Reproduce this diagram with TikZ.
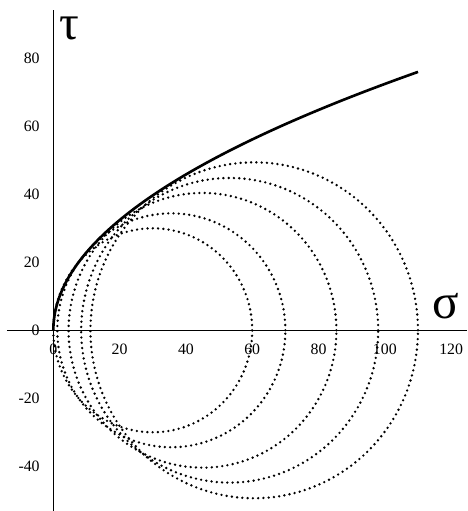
\documentclass[tikz,border=0pt]{standalone}
\usepackage{fontspec}
\setmainfont{Liberation Serif}
\usepackage{tikz}

\tikzset{
  axis/.style={line width=0.6pt},
  envelope/.style={line width=1.5pt},
  mohr/.style={line width=1.5pt,line cap=round,dash pattern=on 0pt off 3pt},
  ticklabel/.style={font=\fontsize{9}{10}\selectfont,inner sep=1pt},
  axislabel/.style={font=\fontsize{28}{30}\selectfont,inner sep=0pt}
}

\begin{document}
\begin{tikzpicture}[x=0.0663cm,y=0.068cm]
  \useasboundingbox (-16.08,-53.15) rectangle (124.8,97.15);
  \draw[axis] (-14,0)--(124.8,0);
  \draw[axis] (0,-53.15)--(0,94.2);
  \node[axislabel] (sigma) at (118.4,7.2) {σ};
  \node[axislabel] (tau) at (5,88.9) {τ};
  \foreach \s in {0,20,40,60,80,100,120}{\node[ticklabel] (x\s) at (\s,-5.5) {\s};}
  \foreach \t in {80,60,40,20,0,-20,-40}{\node[ticklabel,anchor=east] (y\t) at (-3.5,\t) {\t};}
  % Mohr circles: centre, radius
  \foreach \c/\r in {30/30,35.6/34.4,45/40.4,53.2/44.8,60.6/49.4}{
    \draw[mohr] plot[domain=0:360,samples=181,smooth] ({\c+\r*cos(\x)},{\r*sin(\x)});}
  % envelope
  \draw[envelope] plot[domain=0:76,samples=80,smooth] ({\x*\x/52.5},\x);
\end{tikzpicture}
\end{document}
